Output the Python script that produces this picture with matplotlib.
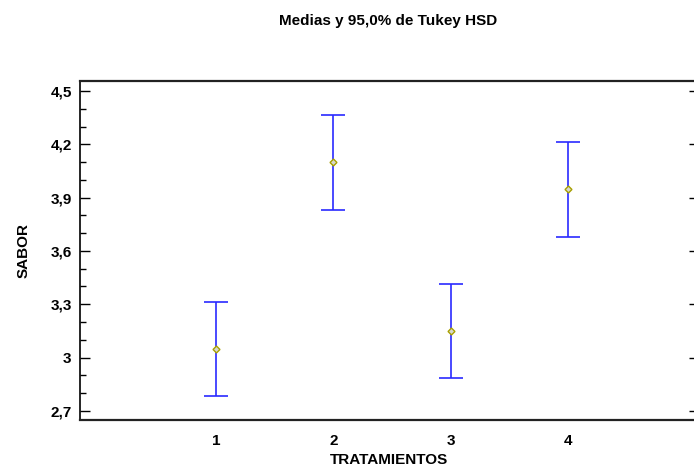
import numpy as np
import matplotlib as mpl
mpl.use('Agg')
import matplotlib.pyplot as plt
from matplotlib.ticker import MultipleLocator, FixedLocator, FuncFormatter

treatments = [1, 2, 3, 4]
means = [3.05, 4.10, 3.15, 3.95]
lower = [2.785, 3.831, 2.886, 3.679]
upper = [3.313, 4.365, 3.415, 4.213]

plt.rcParams['font.family'] = ['Liberation Sans Narrow', 'Liberation Sans', 'DejaVu Sans']
plt.rcParams['font.weight'] = 'bold'

fig = plt.figure(figsize=(6.94, 4.68), dpi=100)
ax = fig.add_axes([80 / 694, 1 - 420 / 468, 619 / 694, 339 / 468])

means = np.array(means)
err = np.array([means - np.array(lower), np.array(upper) - means])
ax.errorbar(treatments, means, yerr=err, fmt='none', ecolor='#2a2aff',
            elinewidth=1.2, capsize=8.5, capthick=1.2)
ax.plot(treatments, means, 'D', ms=3.5, mfc='#d8d8d0', mec='#a8a000', mew=1)

ax.set_xlim(-0.157, 5.115)
ax.set_ylim(2.649, 4.556)
ax.yaxis.set_major_locator(FixedLocator([2.7, 3.0, 3.3, 3.6, 3.9, 4.2, 4.5]))
ax.yaxis.set_minor_locator(MultipleLocator(0.1))
ax.yaxis.set_major_formatter(FuncFormatter(lambda v, p: f'{v:g}'.replace('.', ',')))
ax.set_xticks(treatments)
ax.tick_params(axis='x', length=0, pad=10, labelsize=11)
ax.tick_params(axis='y', which='major', direction='in', length=7, width=1,
               labelsize=11, pad=6, right=True)
ax.tick_params(axis='y', which='minor', direction='in', length=4.5, width=1)
ax.tick_params(axis='y', which='minor', right=False)

for side in ['top', 'bottom']:
    ax.spines[side].set_linewidth(1.6)
    ax.spines[side].set_color('#222222')
ax.spines['left'].set_linewidth(1.2)

ax.set_xlabel('TRATAMIENTOS', fontsize=11, fontweight='bold', labelpad=4)
ax.set_ylabel('SABOR', fontsize=11, fontweight='bold', labelpad=14)
fig.text(388 / 694, 1 - 21 / 468, 'Medias y 95,0% de Tukey HSD', ha='center',
         va='center', fontsize=11, fontweight='bold')

fig.savefig('out.png', dpi=100)
